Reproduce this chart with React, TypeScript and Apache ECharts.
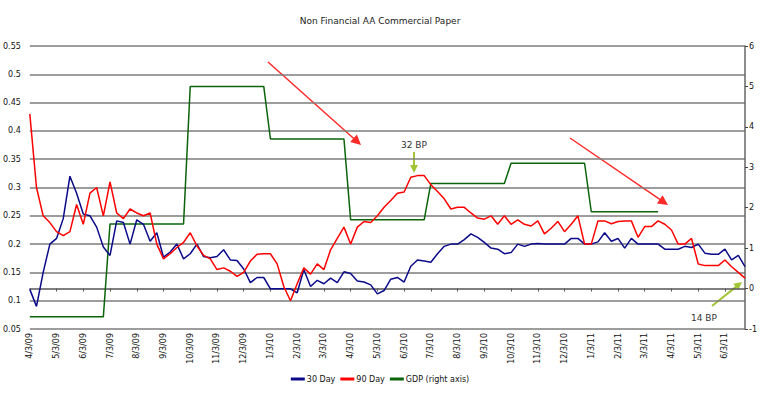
import React, { useEffect, useRef } from "react";
import * as echarts from "echarts";

const titleText = "Non Financial AA Commercial Paper";

const monthLabels = [
  "4/3/09", "5/3/09", "6/3/09", "7/3/09", "8/3/09", "9/3/09", "10/3/09", "11/3/09", "12/3/09",
  "1/3/10", "2/3/10", "3/3/10", "4/3/10", "5/3/10", "6/3/10", "7/3/10", "8/3/10", "9/3/10",
  "10/3/10", "11/3/10", "12/3/10", "1/3/11", "2/3/11", "3/3/11", "4/3/11", "5/3/11", "6/3/11",
];

// weekly-ish observations (4 per month)
const day30 = [
  0.12, 0.09, 0.15, 0.2, 0.21, 0.245, 0.32, 0.29, 0.253, 0.25,
  0.23, 0.195, 0.18, 0.241, 0.238, 0.2, 0.243, 0.235, 0.205, 0.22,
  0.177, 0.186, 0.2, 0.174, 0.183, 0.2, 0.178, 0.176, 0.178, 0.19,
  0.172, 0.171, 0.156, 0.132, 0.141, 0.141, 0.121, 0.121, 0.121, 0.121,
  0.114, 0.155, 0.125, 0.136, 0.13, 0.14, 0.132, 0.151, 0.148, 0.135,
  0.133, 0.128, 0.112, 0.118, 0.138, 0.141, 0.133, 0.161, 0.172, 0.17,
  0.168, 0.183, 0.196, 0.2, 0.2, 0.208, 0.218, 0.212, 0.203, 0.193,
  0.191, 0.183, 0.185, 0.2, 0.196, 0.2, 0.201, 0.2, 0.2, 0.2,
  0.2, 0.21, 0.21, 0.2, 0.2, 0.204, 0.22, 0.205, 0.21, 0.193,
  0.21, 0.2, 0.2, 0.2, 0.2, 0.191, 0.191, 0.191, 0.196, 0.194,
  0.2, 0.184, 0.182, 0.182, 0.191, 0.172, 0.18, 0.16,
];

const day90 = [
  0.43, 0.3, 0.25, 0.238, 0.222, 0.215, 0.222, 0.27, 0.235, 0.29,
  0.3, 0.25, 0.31, 0.255, 0.245, 0.262, 0.255, 0.25, 0.255, 0.2,
  0.174, 0.183, 0.194, 0.203, 0.22, 0.197, 0.18, 0.174, 0.155, 0.158,
  0.152, 0.143, 0.15, 0.17, 0.182, 0.183, 0.183, 0.165, 0.125, 0.1,
  0.13, 0.158, 0.147, 0.165, 0.155, 0.19, 0.21, 0.23, 0.2, 0.23,
  0.24, 0.238, 0.25, 0.265, 0.277, 0.29, 0.292, 0.318, 0.321, 0.321,
  0.305, 0.293, 0.28, 0.262, 0.265, 0.265, 0.255, 0.246, 0.244, 0.25,
  0.235, 0.25, 0.235, 0.243, 0.235, 0.232, 0.241, 0.218, 0.228, 0.24,
  0.222, 0.235, 0.25, 0.2, 0.2, 0.241, 0.241, 0.236, 0.24, 0.241,
  0.241, 0.212, 0.231, 0.231, 0.241, 0.235, 0.225, 0.2, 0.2, 0.21,
  0.165, 0.162, 0.162, 0.162, 0.172, 0.16, 0.15, 0.14,
];

// GDP (right axis): [observation index, value]
const gdpPoints = [
  [0, -0.7], [11, -0.7], [12, 1.6], [23, 1.6], [24, 5.0], [35, 5.0], [36, 3.7], [47, 3.7],
  [48, 1.7], [59, 1.7], [60, 2.6], [71, 2.6], [72, 3.1], [83, 3.1], [84, 1.9], [94, 1.9],
];

const seriesNames = ["30 Day", "90 Day", "GDP (right axis)"];

const FONT = "DejaVu Sans";

function arrow(x1: number, y1: number, x2: number, y2: number, color: string, w: number, hl: number, hw: number) {
  const a = Math.atan2(y2 - y1, x2 - x1);
  const c = Math.cos(a), s = Math.sin(a);
  const bx = x2 - hl * c, by = y2 - hl * s;
  return [
    { type: "line", shape: { x1, y1, x2: bx + c, y2: by + s }, style: { stroke: color, lineWidth: w }, silent: true },
    {
      type: "polygon",
      shape: { points: [[x2, y2], [bx - hw * s, by + hw * c], [bx + hw * s, by - hw * c]] },
      style: { fill: color },
      silent: true,
    },
  ];
}

export default function App() {
  const ref = useRef<HTMLDivElement>(null);
  useEffect(() => {
    if (!ref.current) return;
    const chart = echarts.init(ref.current, undefined, { renderer: "svg" });
    const cats: string[] = [];
    for (let i = 0; i < day30.length; i++) {
      const m = Math.floor(i / 4);
      cats.push(i % 4 === 0 ? monthLabels[m] : `${monthLabels[m]} +${i % 4}w`);
    }
    const grey = "#7c7c7c";
    const yg = "#a2c535";
    chart.setOption({
      animation: false,
      textStyle: { fontFamily: FONT },
      title: {
        text: titleText,
        left: "center",
        top: 11,
        textStyle: { fontSize: 9, fontWeight: "normal", color: "#222", fontFamily: FONT },
      },
      legend: {
        data: seriesNames,
        bottom: 10,
        left: "center",
        icon: "rect",
        itemWidth: 14,
        itemHeight: 3,
        itemGap: 5,
        textStyle: { fontSize: 8, color: "#111", fontFamily: FONT, padding: [0, 0, 0, -3] },
      },
      grid: { left: 27, right: 15, top: 46, bottom: 69, containLabel: false },
      xAxis: {
        type: "category",
        data: cats,
        boundaryGap: false,
        axisLine: { show: true, lineStyle: { color: "#555", width: 1.5 } },
        axisTick: { show: true, interval: 3, length: 3, lineStyle: { color: "#555" } },
        axisLabel: {
          interval: 3,
          rotate: 90,
          fontSize: 8,
          color: "#111",
          margin: 4,
          fontFamily: FONT,
        },
        splitLine: { show: false },
      },
      yAxis: [
        {
          type: "value",
          min: 0.05,
          max: 0.55,
          interval: 0.05,
          axisLine: { show: false },
          axisTick: { show: false },
          axisLabel: {
            fontSize: 8,
            color: "#111",
            margin: 9,
            fontFamily: FONT,
            formatter: (v: number) => String(Math.round(v * 100) / 100),
          },
          splitLine: { show: true, lineStyle: { color: grey, width: 1.5 } },
        },
        {
          type: "value",
          min: -1,
          max: 6,
          interval: 1,
          position: "right",
          axisLine: { show: true, lineStyle: { color: "#666", width: 1.5 } },
          axisTick: { show: true, length: 3, lineStyle: { color: "#444" } },
          axisLabel: { fontSize: 8, color: "#111", margin: 4, fontFamily: FONT },
          splitLine: { show: false },
        },
      ],
      series: [
        {
          name: seriesNames[0],
          type: "line",
          data: day30,
          showSymbol: false,
          lineStyle: { color: "#0a0a8a", width: 1.5 },
          itemStyle: { color: "#0a0a8a" },
          z: 3,
        },
        {
          name: seriesNames[1],
          type: "line",
          data: day90,
          showSymbol: false,
          lineStyle: { color: "#ff0000", width: 1.5 },
          itemStyle: { color: "#ff0000" },
          z: 4,
        },
        {
          name: seriesNames[2],
          type: "line",
          yAxisIndex: 1,
          data: gdpPoints,
          showSymbol: false,
          lineStyle: { color: "#0b640b", width: 1.5 },
          itemStyle: { color: "#0b640b" },
          z: 2,
        },
      ],
      graphic: [
        ...arrow(268, 62, 361, 145, "#ff2a2a", 1.5, 10, 5),
        ...arrow(570, 138, 668, 205, "#ff2a2a", 1.5, 10, 5),
        ...arrow(414, 152, 414, 173, yg, 2, 8, 4),
        ...arrow(712, 306, 742, 282, yg, 2, 8, 4),
        {
          type: "text",
          x: 414,
          y: 145,
          style: { text: "32 BP", fontSize: 9, fill: "#333", align: "center", verticalAlign: "middle", fontFamily: FONT },
          silent: true,
        },
        {
          type: "text",
          x: 704,
          y: 318,
          style: { text: "14 BP", fontSize: 9, fill: "#333", align: "center", verticalAlign: "middle", fontFamily: FONT },
          silent: true,
        },
      ],
    });
    return () => chart.dispose();
  }, []);
  return (
    <div
      ref={ref}
      style={{ position: "fixed", left: 0, top: 0, width: 760, height: 398, background: "#fff" }}
    />
  );
}
